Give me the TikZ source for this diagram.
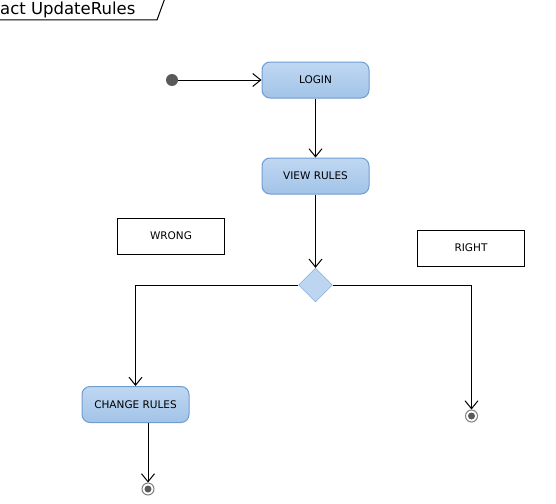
\documentclass[tikz,border=0pt]{standalone}
\usepackage{fontspec}
\setmainfont{DejaVu Sans}
\usetikzlibrary{arrows.meta,shapes.geometric}

\definecolor{actfill}{HTML}{BFD8F2}
\definecolor{actfilldark}{HTML}{A2C3E8}
\definecolor{actline}{HTML}{6F9DD0}

\tikzset{
    action/.style={draw=actline, line width=1pt, rounded corners=8pt, top color=actfill, bottom color=actfilldark,
        minimum width=107pt, minimum height=36pt, font=\fontsize{10.5}{12}\selectfont, inner sep=0pt},
    note/.style={draw, line width=1pt, fill=white, minimum width=107pt, minimum height=36pt,
        font=\fontsize{10.5}{12}\selectfont, inner sep=0pt},
    final/.style={circle, draw=black!50, line width=1pt, fill=white, minimum size=12pt, inner sep=0pt,
        path picture={\fill[black!65] (path picture bounding box.center) circle (3.5pt);}},
    flow/.style={-{Straight Barb[length=8pt,width=13pt]}, line width=1pt},
}

\begin{document}
\begin{tikzpicture}[x=1pt, y=-1pt]
        \useasboundingbox (0,0) rectangle (556,503);

        % frame tab
        \draw[line width=1pt] (-2,20) -- (157,20) -- (165,-2);
        \node[anchor=base west, inner sep=0pt, font=\fontsize{16.5}{18}\selectfont] (title) at (0,15) {act UpdateRules};

        \node[circle, fill=black!65, minimum size=12pt, inner sep=0pt] (start) at (172,80) {};
        \node[action] (login) at (315.5,80) {LOGIN};
        \node[action] (view) at (315.5,176) {VIEW RULES};
        \node[diamond, draw=actline, fill=actfill!90!actfilldark, minimum width=34pt, minimum height=34pt, inner sep=0pt] (dec) at (315.5,285) {};
        \node[action] (change) at (135.5,404.5) {CHANGE RULES};
        \node[note] (wrong) at (171,236) {WRONG};
        \node[note] (right) at (471,248) {RIGHT};
        \node[final] (fin1) at (148,489) {};
        \node[final] (fin2) at (471.5,416) {};

        \draw[flow] (start) -- (login);
        \draw[flow] (login) -- (view);
        \draw[flow] (view) -- (dec);
        \draw[flow] (dec.west) -| (change.north);
        \draw[flow] (dec.east) -| (fin2);
        \draw[flow] (change.south -| fin1) -- (fin1);
    \end{tikzpicture}
\end{document}
